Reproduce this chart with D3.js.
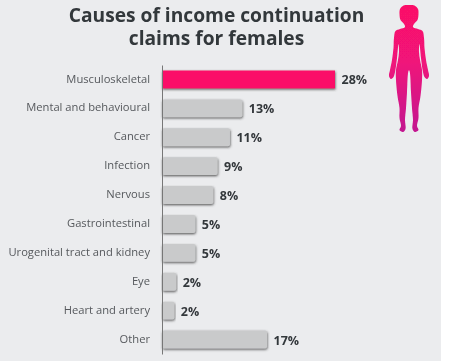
<!DOCTYPE html>
<html>
<head>
<meta charset="utf-8">
<script src="https://cdn.jsdelivr.net/npm/d3@7"></script>
<style>
  html, body { margin: 0; padding: 0; background: #fff; }
  svg { display: block; font-family: "Open Sans", sans-serif; }
</style>
</head>
<body>
<svg id="drawing_region"></svg>
<script>
const categories = ['Musculoskeletal', 'Mental and behavioural', 'Cancer', 'Infection', 'Nervous',
    'Gastrointestinal', 'Urogenital tract and kidney', 'Eye', 'Heart and artery', 'Other'];
// bar lengths as drawn
const values = [28, 13, 11, 9, 8.3, 5.4, 5.4, 2.3, 2, 17];
const value_labels = ['28%', '13%', '11%', '9%', '8%', '5%', '5%', '2%', '2%', '17%'];
const title_lines = ['Causes of income continuation', 'claims for females'];

// right half of the body icon, mirrored below: [offset from centre, y]
const figure_half = [[0, 5], [5.5, 5.5], [9, 9], [9.5, 14], [8.5, 20], [5, 24], [4, 27], [9, 29], [13.5, 31],
    [15, 38], [15.5, 48], [17, 60], [19, 70], [20, 76], [18, 79], [15.5, 77], [14, 72], [12, 58], [10.5, 44],
    [10, 52], [11, 60], [13, 70], [13, 80], [11.5, 96], [9.5, 108], [9.5, 118], [8, 126], [9.5, 130], [6, 132],
    [3.5, 129], [4, 120], [3, 108], [2, 92], [0.8, 72], [0, 70]];

draw();

function draw() {

    const width  = 470;
    const height = 361;
    const margin = { top: 65, left: 162, bottom: 7 };

    const svg = d3.select('#drawing_region')
        .attr('width', width)
        .attr('height', height);

    const defs = svg.append('defs');

    const shadow = defs.append('filter').attr('id', 'bar_shadow')
        .attr('x', '-5%').attr('y', '-10%').attr('width', '115%').attr('height', '130%');
    shadow.append('feDropShadow')
        .attr('dx', 0.5).attr('dy', 1.2).attr('stdDeviation', 0.8)
        .attr('flood-color', '#444').attr('flood-opacity', 0.85);

    const soft = defs.append('filter').attr('id', 'soft');
    soft.append('feGaussianBlur').attr('stdDeviation', 0.35);

    const grad = defs.append('linearGradient').attr('id', 'figure_grad')
        .attr('x1', 0).attr('y1', 0).attr('x2', 0).attr('y2', 1);
    grad.append('stop').attr('offset', '0%').attr('stop-color', '#fb1167');
    grad.append('stop').attr('offset', '45%').attr('stop-color', '#f0127a');
    grad.append('stop').attr('offset', '100%').attr('stop-color', '#c2128f');

    // panel
    svg.append('rect')
        .attr('width', 441).attr('height', height)
        .attr('fill', '#ebecee');

    const xscale = d3.scaleLinear()
        .domain([0, 28])
        .range([margin.left, 335]);

    const yscale = d3.scaleBand()
        .domain(categories)
        .range([margin.top, height - margin.bottom])
        .paddingInner(0.38)
        .paddingOuter(0.19);

    const chart = svg.append('g').attr('filter', 'url(#soft)');

    // title, one text element with a tspan per line
    chart.append('text')
        .attr('text-anchor', 'middle')
        .attr('font-size', '19.2px')
        .attr('font-weight', 700)
        .attr('fill', '#33373b')
        .selectAll('tspan')
        .data(title_lines)
        .enter()
        .append('tspan')
        .attr('x', 216.5)
        .attr('y', (d, i) => 22 + i * 22.5)
        .text(d => d);

    // bars
    chart.selectAll('.bar')
        .data(categories)
        .enter()
        .append('rect')
        .attr('class', 'bar')
        .attr('x', margin.left)
        .attr('y', d => yscale(d))
        .attr('width', (d, i) => xscale(values[i]) - margin.left)
        .attr('height', yscale.bandwidth())
        .attr('rx', (d, i) => i === 0 ? 0 : 2)
        .attr('fill', (d, i) => i === 0 ? '#fb1167' : '#c9cacb')
        .attr('filter', 'url(#bar_shadow)');

    // category axis
    const axis = chart.append('g')
        .attr('transform', `translate(${margin.left}, 0)`)
        .call(d3.axisLeft(yscale).tickSize(0).tickPadding(12));
    axis.select('.domain').attr('stroke', '#777').attr('stroke-width', 1);
    axis.selectAll('text')
        .attr('font-family', '"Open Sans", sans-serif')
        .attr('font-size', '11.2px')
        .attr('fill', '#55585c')
        .attr('dy', '0.28em');

    // value labels
    chart.selectAll('.value')
        .data(categories)
        .enter()
        .append('text')
        .attr('class', 'value')
        .attr('x', (d, i) => xscale(values[i]) + 6.5)
        .attr('y', d => yscale(d) + yscale.bandwidth() / 2 + 5)
        .attr('font-size', '12.5px')
        .attr('font-weight', 700)
        .attr('fill', '#33373b')
        .text((d, i) => value_labels[i]);

    // body icon
    const cx = 409;
    const outline = figure_half.map(p => [cx + p[0], p[1]])
        .concat(figure_half.slice().reverse().map(p => [cx - p[0], p[1]]));
    chart.append('path')
        .attr('d', d3.line().curve(d3.curveCatmullRomClosed.alpha(0.5))(outline))
        .attr('fill', 'url(#figure_grad)');
}
</script>
</body>
</html>
